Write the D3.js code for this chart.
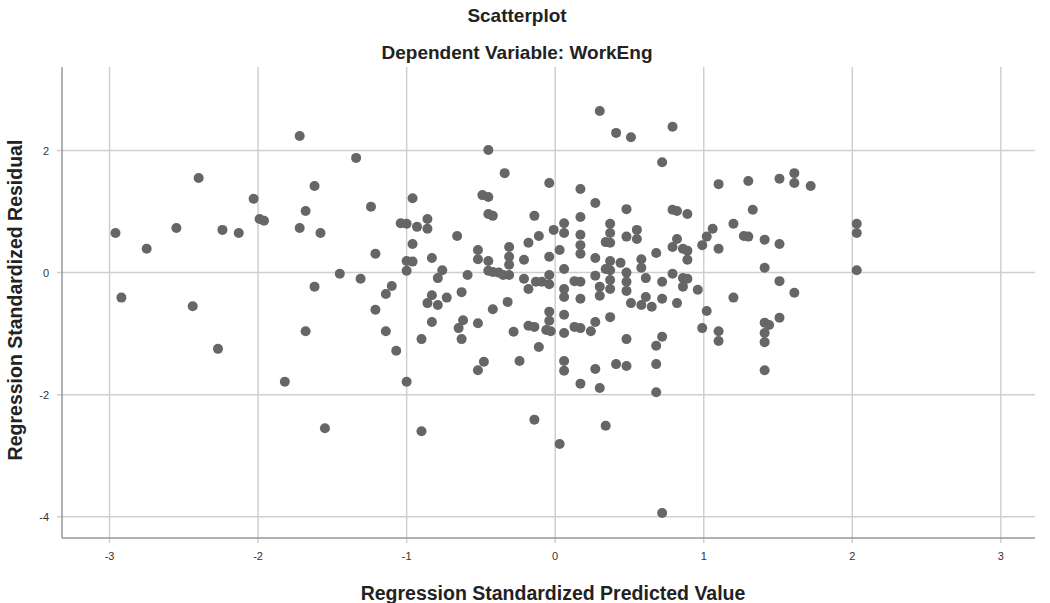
<!DOCTYPE html>
<html lang="en">
<head>
	<meta charset="UTF-8">
	<title>Scatterplot</title>
	<script src="https://cdnjs.cloudflare.com/ajax/libs/d3/7.8.5/d3.min.js"></script>
	<style>
		*{
			padding: 0;
			margin: 0;
		}
		body{
			background: #fff;
		}
		text{
			font-family: "Liberation Sans", Arial, sans-serif;
		}
		.title{
			font-weight: bold;
			font-size: 19px;
			fill: #222;
		}
		.axis-title{
			font-weight: bold;
			font-size: 19.5px;
			fill: #222;
		}
		.tick-label{
			font-size: 11px;
			fill: #333;
		}
		.grid line{
			stroke: #cfcfcf;
			stroke-width: 1.5;
		}
		.frame{
			stroke: #999;
			stroke-width: 1.5;
		}
		circle{
			fill: #666;
		}
	</style>
</head>
<body>
	<div id="container"></div>
<script>
	var width=1050,
	height=603,
	plot={left:62,right:1035,top:67,bottom:538}

	var titleLines=['Scatterplot','Dependent Variable: WorkEng']
	var xTitle='Regression Standardized Predicted Value'
	var yTitle='Regression Standardized Residual'
	var xTicks=[-3,-2,-1,0,1,2,3]
	var yTicks=[-4,-2,0,2]

	// standardized predicted values (x)
	var predicted=[
		-2.96,-2.92,-2.75,-2.55,-2.44,-2.40,-2.27,-2.24,-2.13,-2.03,
		-1.99,-1.96,-1.82,-1.72,-1.72,-1.68,-1.68,-1.62,-1.62,-1.58,
		-1.34,-1.24,-0.96,-1.04,-1.00,-0.93,-0.86,-0.86,-0.66,-0.96,
		-1.21,-1.00,-0.96,-1.00,-0.83,-0.76,-0.79,-1.45,-1.31,-1.10,
		-1.14,-0.83,-0.73,-0.63,-0.86,-0.79,-1.21,-1.14,-0.83,-0.90,
		-0.65,-0.63,-1.07,-1.00,-1.55,-0.90,
		-0.45,-0.34,-0.04,0.17,-0.49,-0.45,-0.45,-0.42,-0.14,0.17,
		-0.11,-0.18,-0.01,0.06,0.06,0.17,0.17,0.17,0.03,-0.04,
		-0.52,-0.52,-0.45,-0.31,-0.31,-0.31,-0.31,-0.45,-0.42,-0.38,
		-0.35,-0.21,0.06,-0.59,-0.21,-0.13,-0.09,-0.04,-0.04,-0.18,
		0.06,0.06,0.13,0.17,-0.32,-0.42,-0.62,-0.52,-0.28,-0.18,
		-0.14,-0.04,-0.04,-0.06,-0.03,0.06,0.06,0.13,0.17,0.17,
		-0.11,-0.48,-0.52,-0.24,0.06,0.06,0.17,-0.14,0.03,
		0.30,0.41,0.51,0.79,0.72,0.27,0.48,0.79,0.82,0.89,
		0.37,0.37,0.34,0.37,0.48,0.55,0.55,0.82,0.79,0.86,
		0.89,0.89,0.68,0.99,0.27,0.37,0.34,0.37,0.44,0.58,
		0.58,0.48,0.48,0.48,0.27,0.37,0.37,0.61,0.79,0.86,
		0.89,0.86,0.72,0.30,0.30,0.61,0.72,0.96,0.51,0.58,
		0.65,0.82,0.37,0.27,0.24,0.48,0.72,0.68,0.27,0.41,
		0.48,0.68,0.30,0.68,0.34,0.72,
		1.10,1.30,1.51,1.61,1.61,1.72,1.33,1.20,1.06,1.02,
		1.10,1.27,1.30,1.41,1.51,1.41,1.51,1.61,1.20,2.03,
		2.03,2.03,1.02,0.99,1.10,1.10,1.41,1.44,1.41,1.41,
		1.51,1.41
	]

	// standardized residuals (y)
	var residual=[
		0.65,-0.41,0.39,0.73,-0.55,1.55,-1.25,0.70,0.65,1.21,
		0.88,0.85,-1.79,2.24,0.73,1.01,-0.96,1.42,-0.23,0.65,
		1.88,1.08,1.22,0.81,0.80,0.75,0.88,0.72,0.60,0.47,
		0.31,0.19,0.18,0.03,0.24,0.04,-0.09,-0.02,-0.10,-0.22,
		-0.35,-0.37,-0.41,-0.32,-0.50,-0.53,-0.61,-0.96,-0.81,-1.09,
		-0.91,-1.09,-1.28,-1.79,-2.55,-2.60,
		2.01,1.63,1.47,1.37,1.27,1.24,0.96,0.93,0.93,0.91,
		0.60,0.49,0.70,0.81,0.65,0.62,0.45,0.31,0.37,0.26,
		0.37,0.22,0.19,0.42,0.26,0.13,-0.04,0.03,0.01,0.00,
		-0.04,0.21,0.06,-0.04,-0.10,-0.15,-0.15,-0.04,-0.19,-0.27,
		-0.27,-0.40,-0.14,-0.15,-0.48,-0.60,-0.78,-0.83,-0.97,-0.87,
		-0.89,-0.64,-0.79,-0.94,-0.96,-0.69,-0.99,-0.89,-0.91,-0.43,
		-1.22,-1.46,-1.60,-1.45,-1.45,-1.61,-1.82,-2.41,-2.81,
		2.65,2.29,2.22,2.39,1.81,1.14,1.04,1.03,1.01,0.96,
		0.80,0.65,0.50,0.49,0.59,0.70,0.55,0.55,0.42,0.39,
		0.36,0.21,0.32,0.45,0.24,0.19,0.06,0.04,0.16,0.22,
		0.08,0.00,-0.15,-0.30,-0.05,-0.12,-0.27,-0.09,-0.02,-0.09,
		-0.10,-0.23,-0.15,-0.23,-0.38,-0.40,-0.43,-0.28,-0.50,-0.53,
		-0.56,-0.50,-0.73,-0.81,-0.96,-1.09,-1.05,-1.20,-1.58,-1.50,
		-1.53,-1.50,-1.89,-1.96,-2.51,-3.94,
		1.45,1.50,1.54,1.63,1.47,1.42,1.03,0.80,0.72,0.59,
		0.39,0.60,0.59,0.54,0.47,0.08,-0.14,-0.33,-0.41,0.80,
		0.65,0.04,-0.63,-0.91,-0.96,-1.12,-0.82,-0.86,-0.99,-1.14,
		-0.74,-1.60
	]

	var points=predicted.map(function(d,i){return {x:d,y:residual[i]}})

	var svg=d3.select('#container')
	.append('svg')
	.attr('width',width)
	.attr('height',height)

	var scale_x=d3.scaleLinear()
	.domain([-3.32,3.23])
	.range([plot.left,plot.right])
	var scale_y=d3.scaleLinear()
	.domain([-4.35,3.37])
	.range([plot.bottom,plot.top])

	// grid lines
	var grid=svg.append('g').attr('class','grid')
	grid.selectAll('.gx')
	.data(xTicks)
	.enter()
	.append('line')
	.attr('x1',function(d){return scale_x(d)})
	.attr('x2',function(d){return scale_x(d)})
	.attr('y1',plot.top)
	.attr('y2',plot.bottom+5)

	grid.selectAll('.gy')
	.data(yTicks)
	.enter()
	.append('line')
	.attr('x1',plot.left-5)
	.attr('x2',plot.right)
	.attr('y1',function(d){return scale_y(d)})
	.attr('y2',function(d){return scale_y(d)})

	// left and bottom axis lines
	svg.append('line').attr('class','frame')
	.attr('x1',plot.left).attr('x2',plot.left)
	.attr('y1',plot.top).attr('y2',plot.bottom)
	svg.append('line').attr('class','frame')
	.attr('x1',plot.left).attr('x2',plot.right)
	.attr('y1',plot.bottom).attr('y2',plot.bottom)

	// tick labels
	svg.selectAll('.xl')
	.data(xTicks)
	.enter()
	.append('text')
	.attr('class','tick-label')
	.attr('x',function(d){return scale_x(d)})
	.attr('y',560)
	.attr('text-anchor','middle')
	.text(function(d){return d})

	svg.selectAll('.yl')
	.data(yTicks)
	.enter()
	.append('text')
	.attr('class','tick-label')
	.attr('x',49)
	.attr('y',function(d){return scale_y(d)+4})
	.attr('text-anchor','end')
	.text(function(d){return d})

	// points
	svg.append('g')
	.selectAll('circle')
	.data(points)
	.enter()
	.append('circle')
	.attr('cx',function(d){return scale_x(d.x)})
	.attr('cy',function(d){return scale_y(d.y)})
	.attr('r',5)

	// titles
	svg.selectAll('.title')
	.data(titleLines)
	.enter()
	.append('text')
	.attr('class','title')
	.attr('x',517)
	.attr('y',function(d,i){return 22+i*37})
	.attr('text-anchor','middle')
	.text(function(d){return d})

	svg.append('text')
	.attr('class','axis-title')
	.attr('x',553)
	.attr('y',600)
	.attr('text-anchor','middle')
	.text(xTitle)

	svg.append('text')
	.attr('class','axis-title')
	.attr('transform','translate(22,300) rotate(-90)')
	.attr('text-anchor','middle')
	.text(yTitle)
</script>
</body>
</html>
